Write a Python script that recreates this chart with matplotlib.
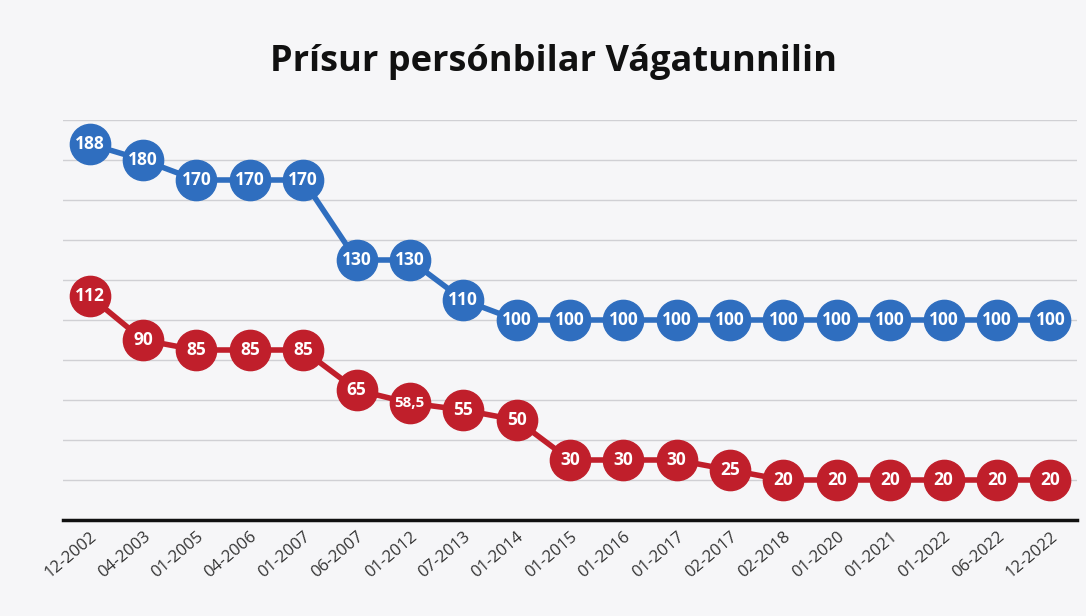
import matplotlib.pyplot as plt

dates = ['12-2002', '04-2003', '01-2005', '04-2006', '01-2007', '06-2007', '01-2012',
         '07-2013', '01-2014', '01-2015', '01-2016', '01-2017', '02-2017', '02-2018',
         '01-2020', '01-2021', '01-2022', '06-2022', '12-2022']
blue_vals = [188, 180, 170, 170, 170, 130, 130, 110, 100, 100, 100, 100, 100, 100,
             100, 100, 100, 100, 100]
red_vals = [112, 90, 85, 85, 85, 65, 58.5, 55, 50, 30, 30, 30, 25, 20, 20, 20, 20, 20, 20]

BLUE = '#2f6ebf'
RED = '#c01f2b'

fig = plt.figure(figsize=(10.86, 6.16), dpi=100, facecolor='#f6f6f8')
ax = fig.add_axes([63 / 1086, 96 / 616, (1077 - 63) / 1086, 400 / 616])
ax.set_facecolor('#f6f6f8')

x = list(range(len(dates)))
for vals, col in [(blue_vals, BLUE), (red_vals, RED)]:
    ax.plot(x, vals, color=col, lw=4, marker='o', ms=29, mfc=col, mec=col, zorder=3)
    for xi, v in zip(x, vals):
        txt = f'{v:g}'.replace('.', ',')
        ax.text(xi, v, txt, color='white', fontsize=12.5 if len(txt) < 4 else 11,
                fontweight='bold', ha='center', va='center', zorder=4,
                family='Open Sans')

ax.set_xlim(-0.5, len(dates) - 0.5)
ax.set_ylim(0, 200)
ax.set_yticks(range(0, 201, 20))
ax.yaxis.grid(True, color='#d0d0d4', lw=1)
ax.set_axisbelow(True)
ax.tick_params(axis='y', left=False, labelleft=False)
ax.tick_params(axis='x', length=0, pad=6)
ax.set_xticks(x)
ax.set_xticklabels(dates, rotation=40, ha='right', rotation_mode='anchor',
                   fontsize=12, color='#333333', family='Open Sans')
for s in ['top', 'right', 'left']:
    ax.spines[s].set_visible(False)
ax.spines['bottom'].set_linewidth(2.5)
ax.spines['bottom'].set_color('#111111')

fig.text(0.51, 0.9, 'Prísur persónbilar Vágatunnilin', ha='center', va='center',
         fontsize=26, fontweight='bold', color='#111111', family='Open Sans')

fig.savefig('out.png', dpi=100, facecolor=fig.get_facecolor())
